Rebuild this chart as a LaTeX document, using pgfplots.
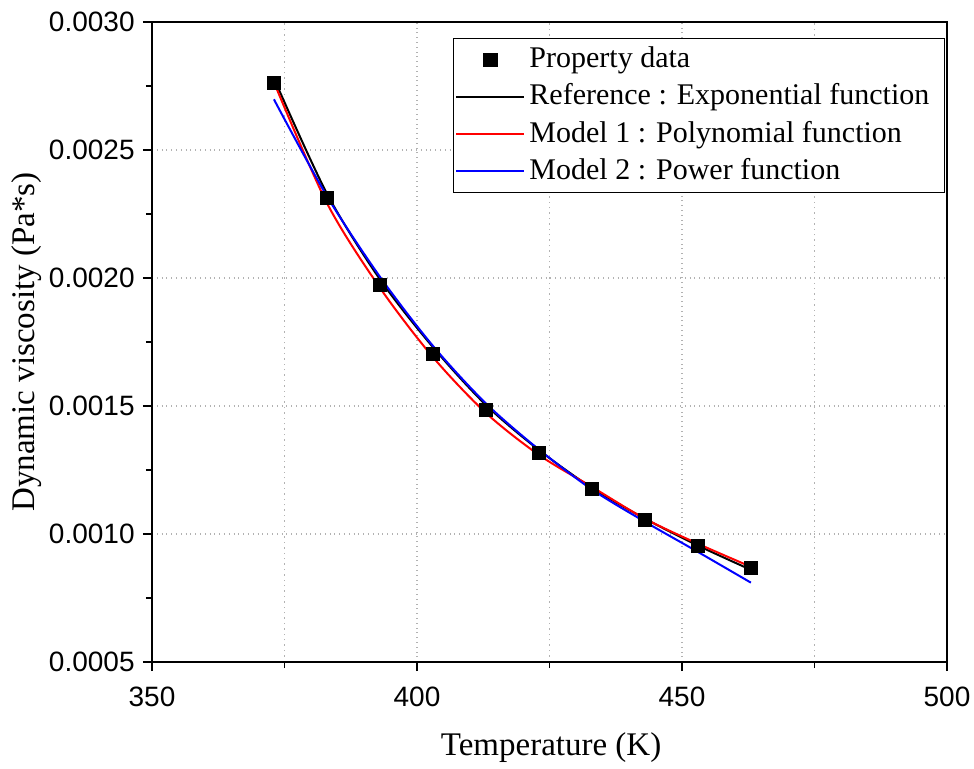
\documentclass[border=0pt]{standalone}
\usepackage{fontspec}
\setmainfont{Liberation Serif}
\newfontfamily\tickfont{Liberation Sans}
\usepackage{pgfplots}
\pgfplotsset{compat=1.18}
\pgfplotsset{
  mylineimg/.style={legend image code/.code={\draw[##1] (0pt,0pt) -- (34pt,0pt);}},
  mymarkimg/.style={legend image code/.code={\draw[##1] plot coordinates {(17pt,0pt)};}},
}
\begin{document}
\begin{tikzpicture}
\path (-76pt,-51.5pt) rectangle (411pt,331pt);
\begin{axis}[
  at={(0pt,0pt)}, anchor=south west,
  scale only axis, width=397.5pt, height=320pt,
  xmin=350, xmax=500, ymin=0.0005, ymax=0.0030,
  xtick={350,400,450,500}, minor xtick={375,425,475},
  ytick={0.0005,0.0010,0.0015,0.0020,0.0025,0.0030},
  minor ytick={0.00075,0.00125,0.00175,0.00225,0.00275},
  tick pos=left, tick align=outside,
  major tick length=4.5pt, minor tick length=3pt,
  axis line style={line width=1pt},
  every tick/.style={black, line width=0.8pt},
  xmajorgrids, ymajorgrids, xminorgrids,
  grid style={gray!60, dotted, line width=0.7pt},
  minor grid style={gray!60, dotted, line width=0.7pt},
  scaled y ticks=false,
  /pgf/number format/assume math mode=true,
  ticklabel style={font=\tickfont\fontsize{14}{16}\selectfont},
  xticklabel style={anchor=north, inner sep=0pt},
  yticklabel style={anchor=east, inner sep=0pt,
    /pgf/number format/.cd, fixed, fixed zerofill, precision=4},
  xticklabel shift=8pt, yticklabel shift=4pt,
  xlabel={Temperature (K)}, ylabel={Dynamic viscosity (Pa*s)},
  every axis x label/.style={at={(axis description cs:0.502,0)}, anchor=base, yshift=-46.5pt,
    font=\fontsize{16.5}{18}\selectfont},
  every axis y label/.style={at={(axis description cs:-0.1472,0.5)}, anchor=base, rotate=90,
    font=\fontsize{16.5}{18}\selectfont},
  legend cell align=left,
  legend style={at={(rel axis cs:0.9975,0.975)}, anchor=north east,
    draw=black, line width=0.7pt, font=\fontsize{15}{17}\selectfont,
    inner xsep=1pt, inner ysep=1.25pt, column sep=0pt, row sep=0pt,
    nodes={inner xsep=2pt, inner ysep=0pt, text height=13.3pt, text depth=5.3pt}},
  mylineimg,
]
\addplot[only marks, mark=square*, mark size=3.2pt, black, mymarkimg]
  coordinates {(373,0.002763) (383,0.002314) (393,0.001973) (403,0.001703) (413,0.001484)
  (423,0.001316) (433,0.001176) (443,0.001055) (453,0.000953) (463,0.000867)};
\addlegendentry{Property data}
\addplot[black, line width=1pt, smooth, no marks]
  coordinates {(373,0.00278) (383,0.00233) (393,0.001995) (403,0.00173) (413,0.001504)
  (423,0.001328) (433,0.00118) (443,0.00106) (453,0.000955) (463,0.00086)};
\addlegendentry{Reference : Exponential function\hspace*{4.5pt}}
\addplot[red, line width=1pt, smooth, no marks]
  coordinates {(373,0.002765) (383,0.002293) (393,0.001962) (403,0.001691) (413,0.001473)
  (423,0.001309) (433,0.001184) (443,0.00106) (453,0.000962) (463,0.000872)};
\addlegendentry{Model 1 : Polynomial function}
\addplot[blue, line width=1pt, smooth, no marks]
  coordinates {(373,0.002698) (383,0.00232) (393,0.002005) (403,0.001735) (413,0.00151)
  (423,0.00133) (433,0.001174) (443,0.001048) (453,0.00093) (463,0.00081)};
\addlegendentry{Model 2 : Power function}
\end{axis}
\end{tikzpicture}
\end{document}
